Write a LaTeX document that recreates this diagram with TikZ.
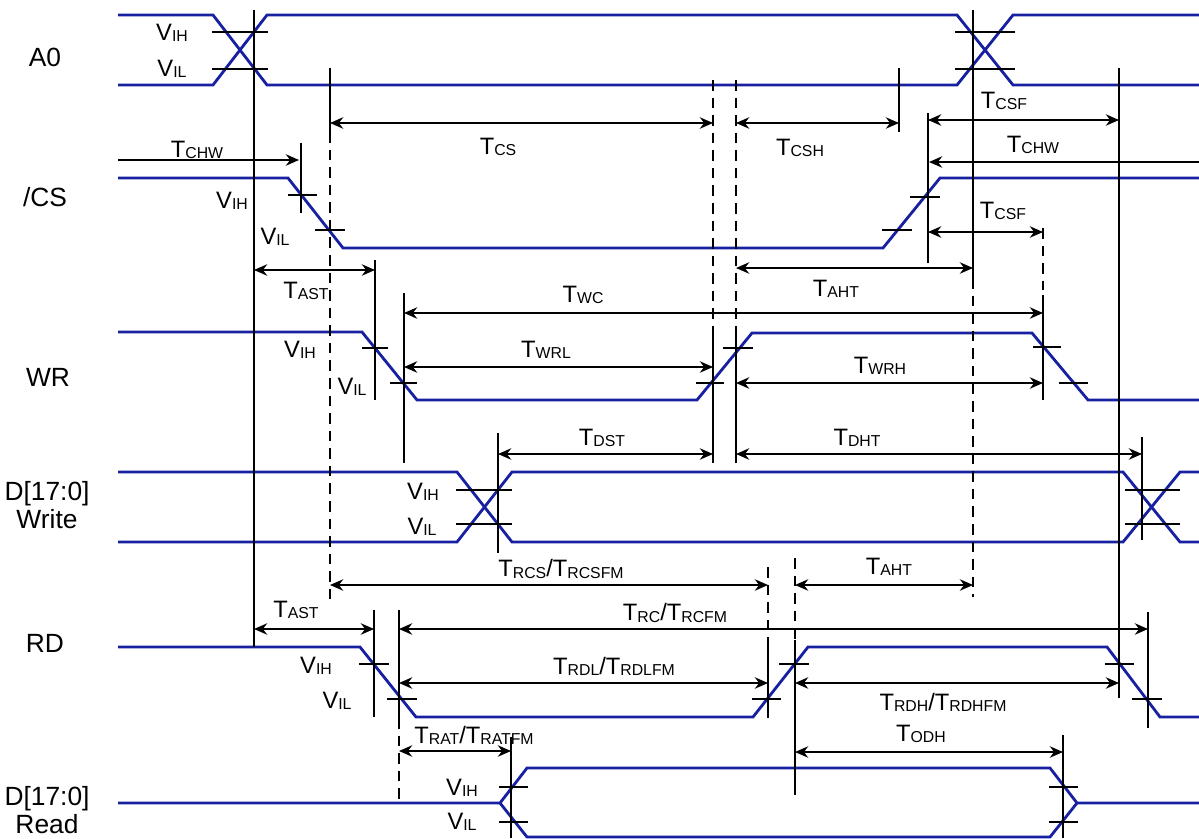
\documentclass[tikz,border=0pt]{standalone}
\usepackage{fontspec}
\setmainfont{Liberation Sans}
\usetikzlibrary{arrows.meta}
\definecolor{sigblue}{RGB}{22,32,160}
\newcommand{\tsym}[2]{#1\raisebox{-0.6pt}{\fontsize{9}{9.5}\selectfont #2}}

\begin{document}
\begin{tikzpicture}[x=0.02cm,y=-0.02cm,
    sig/.style={draw=sigblue, line width=1.6pt},
    lvl/.style={draw=black, line width=1.1pt},
    bold vline/.style={draw=black, line width=1.6pt},
    vline/.style={draw=black, line width=0.9pt},
    dash vline/.style={draw=black, line width=0.8pt, dash pattern=on 6pt off 4pt},
    span/.style={draw=black, line width=1pt, {Stealth[length=7.5pt,width=6.5pt]}-{Stealth[length=7.5pt,width=6.5pt]}},
    span right/.style={draw=black, line width=1pt, -{Stealth[length=7.5pt,width=6.5pt]}},
    lbl/.style={inner sep=0pt, font=\fontsize{13.5}{14}\selectfont},
    signame/.style={inner sep=0pt, align=center, font=\fontsize{15}{15.5}\selectfont}]

  \useasboundingbox (0,0) rectangle (1199,838);

  % Signal names
  \node[signame] (nA0) at (45,57) {A0};
  \node[signame] (nCS) at (45,197) {/CS};
  \node[signame] (nWR) at (48,377) {WR};
  \node[signame] (nDW) at (47,505) {D[17:0]\\Write};
  \node[signame] (nRD) at (45,643) {RD};
  \node[signame] (nDR) at (47,810) {D[17:0]\\Read};

  % Waveforms
  \draw[sig] (118,15) -- (213,15) -- (267,85) -- (957,85) -- (1013,15) -- (1199,15);
  \draw[sig] (118,85) -- (213,85) -- (267,15) -- (957,15) -- (1013,85) -- (1199,85);
  \draw[sig] (118,178) -- (288,178) -- (343,248) -- (883,248) -- (940,178) -- (1199,178);
  \draw[sig] (118,332) -- (362,332) -- (417,400) -- (697,400) -- (752,333) -- (1032,333) -- (1088,400) -- (1199,400);
  \draw[sig] (118,472) -- (457,472) -- (512,542) -- (1123,542) -- (1180,472) -- (1199,472);
  \draw[sig] (118,542) -- (457,542) -- (512,472) -- (1123,472) -- (1180,542) -- (1199,542);
  \draw[sig] (118,647) -- (360,647) -- (416,717) -- (753,717) -- (808,647) -- (1107,647) -- (1160,717) -- (1199,717);
  \draw[sig] (118,803) -- (500,803) -- (527,768) -- (1050,768) -- (1077,803) -- (1199,803);
  \draw[sig] (500,803) -- (527,837) -- (1050,837) -- (1077,803);

  % Level ticks
  \foreach \xa/\xb/\yy in {212/268/32, 212/268/69, 955/1015/32, 955/1015/69,
      288/317/195, 315/345/230, 882/912/230, 910/940/197,
      362/388/348, 390/417/383, 696/724/383, 723/753/348, 1033/1061/347, 1059/1088/383,
      456/512/490, 456/512/524, 1125/1180/490, 1125/1180/524,
      359/389/664, 387/417/699, 752/781/699, 779/809/664, 1105/1134/664, 1132/1162/699,
      499/528/787, 499/528/822, 1049/1078/787, 1049/1078/822}
    \draw[lvl] (\xa,\yy) -- (\xb,\yy);

  % Time markers
  \draw[bold vline] (254,10) -- (254,647);
  \draw[bold vline] (973,10) -- (973,278);
  \draw[bold vline] (928,113) -- (928,263);
  \draw[bold vline] (375,260) -- (375,400);
  \foreach \xx/\ya/\yb in {301/143/213, 330/68/132, 899/68/132, 1119/68/698,
      404/293/463, 713/327/463, 736/327/463, 1043/295/400, 498/433/553, 1142/437/540,
      768/643/718, 795/640/795, 374/610/717, 399/610/718, 1148/612/728, 511/737/838, 1063/735/838}
    \draw[vline] (\xx,\ya) -- (\xx,\yb);
  \foreach \xx/\ya/\yb in {330/132/600, 713/80/327, 736/80/327, 973/278/597,
      1043/228/290, 768/567/643, 795/558/640, 399/718/800}
    \draw[dash vline] (\xx,\ya) -- (\xx,\yb);

  % Arrows
  \draw[span right] (118,160) -- (299,160);
  \draw[span right] (1199,162) -- (929,162);
  \foreach \xa/\xb/\yy in {330/713/123, 736/899/123, 928/1119/120, 928/1043/232,
      254/375/270, 736/973/268, 404/1043/313, 404/713/367, 736/1043/383,
      498/713/454, 736/1142/454, 330/768/585, 795/973/585, 254/374/629,
      399/1148/629, 399/768/683, 795/1119/683, 399/511/751, 795/1063/752}
    \draw[span] (\xa,\yy) -- (\xb,\yy);

  % Timing labels
  \node[lbl] (tCHWa) at (197,150) {\tsym{T}{CHW}};
  \node[lbl] (tCS) at (498,147) {\tsym{T}{CS}};
  \node[lbl] (tCSH) at (800,148) {\tsym{T}{CSH}};
  \node[lbl] (tCSFa) at (1004,101) {\tsym{T}{CSF}};
  \node[lbl] (tCHWb) at (1033,145) {\tsym{T}{CHW}};
  \node[lbl] (tCSFb) at (1003,211) {\tsym{T}{CSF}};
  \node[lbl] (tASTa) at (306,291) {\tsym{T}{AST}};
  \node[lbl] (tAHTa) at (836,289) {\tsym{T}{AHT}};
  \node[lbl] (tWC) at (583,295) {\tsym{T}{WC}};
  \node[lbl] (tWRL) at (546,350) {\tsym{T}{WRL}};
  \node[lbl] (tWRH) at (880,366) {\tsym{T}{WRH}};
  \node[lbl] (tDST) at (602,438) {\tsym{T}{DST}};
  \node[lbl] (tDHT) at (857,438) {\tsym{T}{DHT}};
  \node[lbl] (tRCS) at (561,569) {\tsym{T}{RCS}/\tsym{T}{RCSFM}};
  \node[lbl] (tAHTb) at (889,567) {\tsym{T}{AHT}};
  \node[lbl] (tASTb) at (296,610) {\tsym{T}{AST}};
  \node[lbl] (tRC) at (675,613) {\tsym{T}{RC}/\tsym{T}{RCFM}};
  \node[lbl] (tRDL) at (614,666) {\tsym{T}{RDL}/\tsym{T}{RDLFM}};
  \node[lbl] (tRDH) at (943,702) {\tsym{T}{RDH}/\tsym{T}{RDHFM}};
  \node[lbl] (tRAT) at (474,735) {\tsym{T}{RAT}/\tsym{T}{RATFM}};
  \node[lbl] (tODH) at (921,734) {\tsym{T}{ODH}};

  % Level labels
  \foreach \xx/\yy/\lv/\nm in {172/33/IH/a, 172/69/IL/b, 232/201/IH/c, 275/237/IL/d,
      300/350/IH/e, 352/387/IL/f, 423/492/IH/g, 422/527/IL/h,
      316/666/IH/i, 337/701/IL/j, 462/788/IH/k, 462/822/IL/l}
    \node[lbl] (v\nm) at (\xx,\yy) {\tsym{V}{\lv}};
\end{tikzpicture}
\end{document}
